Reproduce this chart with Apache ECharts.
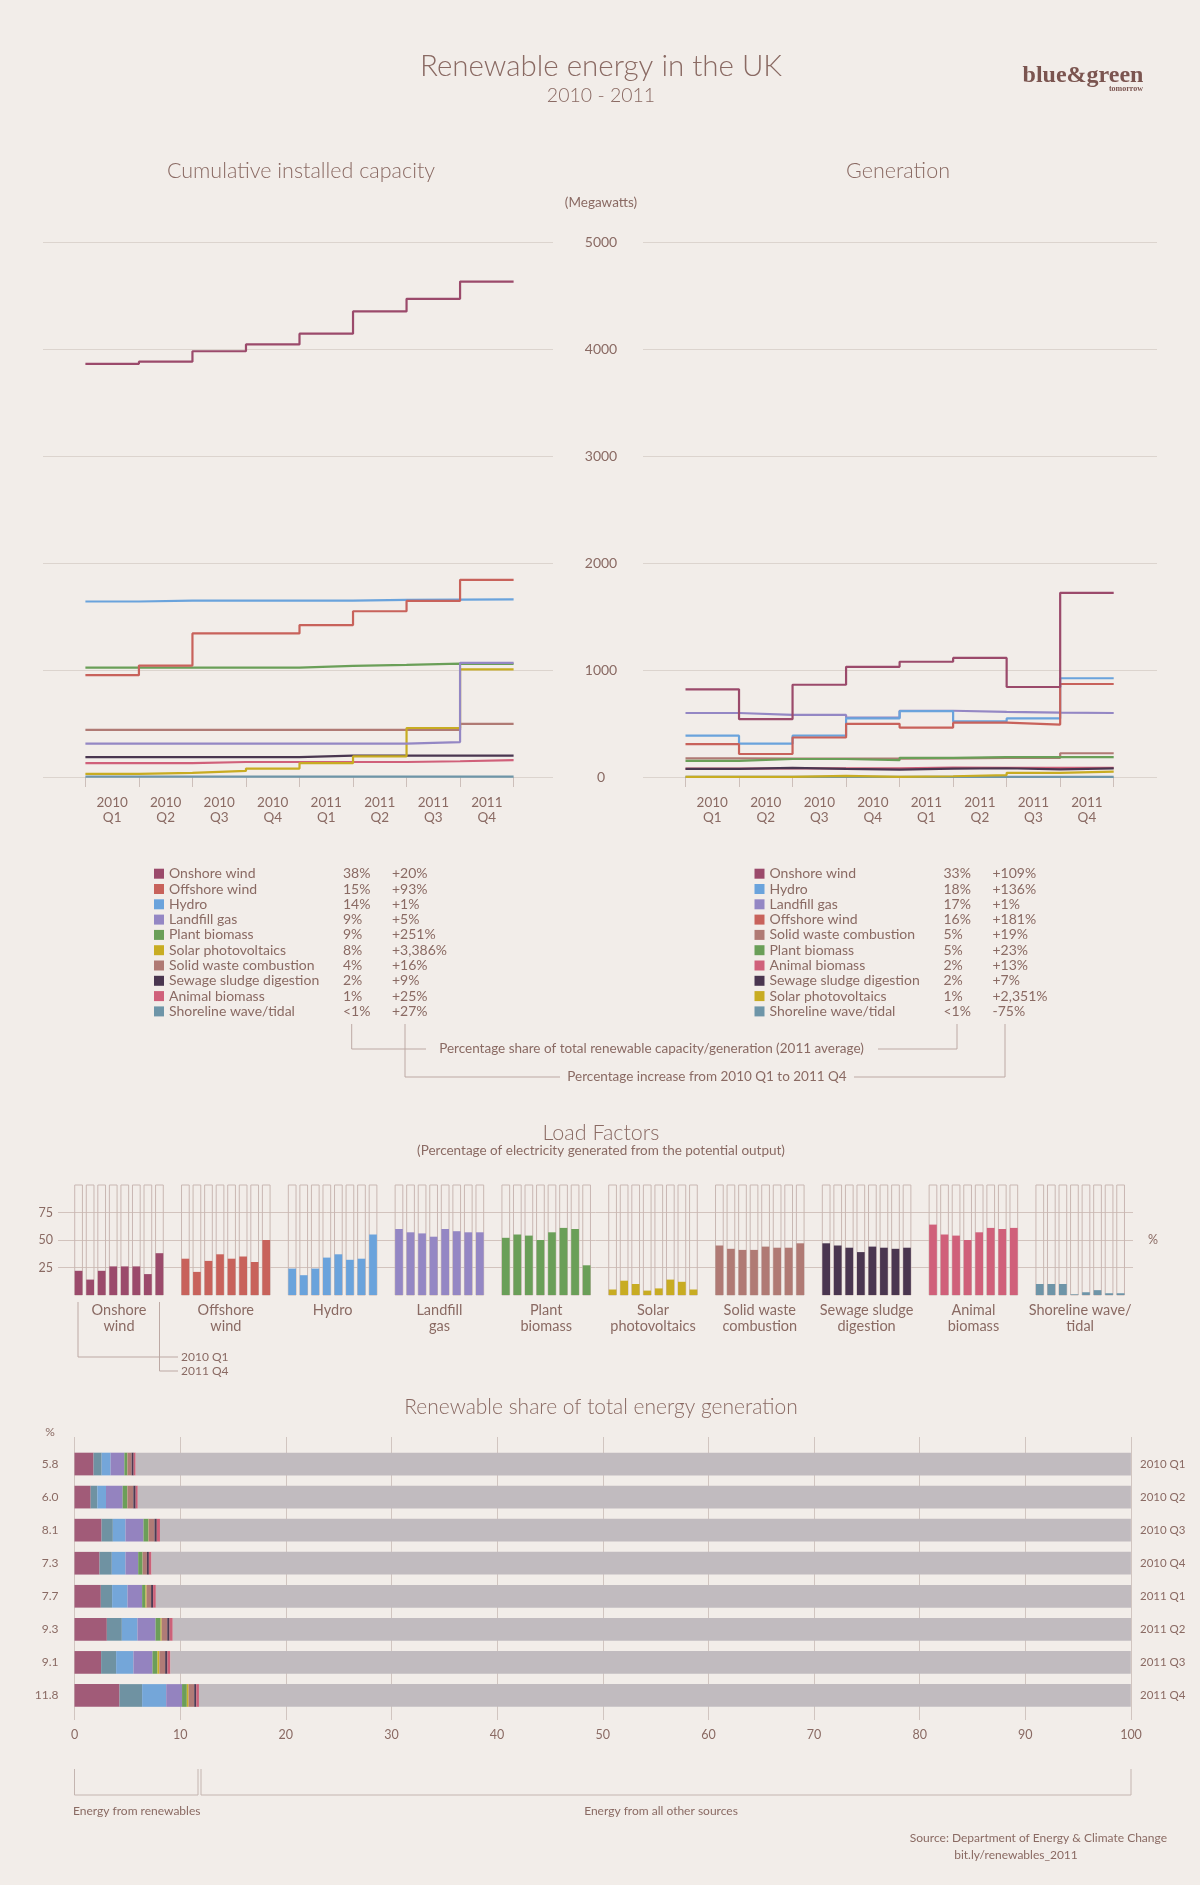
<!DOCTYPE html>
<html><head><meta charset="utf-8">
<script src="https://cdn.jsdelivr.net/npm/echarts@6.0.0/dist/echarts.min.js"></script>
<style>html,body{margin:0;padding:0;background:#f2ede9}#c{width:1200px;height:1885px}</style>
</head><body><div id="c"></div><script>
// ---------- data ----------
const quarterLabels = ['2010\nQ1','2010\nQ2','2010\nQ3','2010\nQ4','2011\nQ1','2011\nQ2','2011\nQ3','2011\nQ4'];
const quarterNames = ['2010 Q1','2010 Q2','2010 Q3','2010 Q4','2011 Q1','2011 Q2','2011 Q3','2011 Q4'];
const sources = ['Onshore wind','Offshore wind','Hydro','Landfill gas','Plant biomass','Solar photovoltaics','Solid waste combustion','Sewage sludge digestion','Animal biomass','Shoreline wave/tidal'];
const sourceColors = ['#9b4a6b','#c8625b','#6aa3dc','#9487c4','#6a9f58','#c8ac22','#b07a74','#4a3650','#d0607a','#6e95a8'];

// Cumulative installed capacity (MW)
const capOnshore   = [3861, 3882, 3979, 4043, 4143, 4351, 4469, 4630];
const capOffshore  = [952, 1041, 1342, 1342, 1420, 1549, 1646, 1843];
const capHydro     = [1640, 1648, 1648, 1648, 1648, 1655, 1658, 1660];
const capLandfill  = [311, 311, 311, 311, 311, 311, 326, 1066];
const capPlant     = [1023, 1023, 1023, 1023, 1038, 1048, 1059, 1058];
const capSolar     = [29, 39, 57, 79, 129, 193, 458, 1005];
const capSolid     = [440, 440, 440, 440, 440, 440, 440, 497];
const capSewage    = [186, 186, 186, 186, 200, 200, 200, 200];
const capAnimal    = [129, 129, 140, 140, 140, 140, 147, 157];
const capShoreline = [3, 3, 3, 3, 3, 3, 3, 4];

// Generation
const genOnshore   = [819, 540, 862, 1030, 1077, 1113, 841, 1721];
const genOffshore  = [308, 215, 369, 497, 462, 508, 490, 869];
const genHydro     = [386, 311, 386, 547, 615, 519, 547, 923];
const genLandfill  = [598, 580, 580, 555, 619, 608, 601, 598];
const genPlant     = [150, 168, 168, 157, 179, 186, 186, 186];
const genSolar     = [1, 1, 11, 2, 7, 18, 39, 50];
const genSolid     = [175, 172, 172, 172, 175, 178, 178, 222];
const genSewage    = [76, 86, 76, 68, 79, 82, 72, 80];
const genAnimal    = [78, 80, 80, 80, 89, 86, 86, 86];
const genShoreline = [2, 2, 2, 2, 2, 2, 2, 1];

const capYTicks = [0, 1000, 2000, 3000, 4000, 5000];

// Legend tables
const capLegendNames = ['Onshore wind','Offshore wind','Hydro','Landfill gas','Plant biomass','Solar photovoltaics','Solid waste combustion','Sewage sludge digestion','Animal biomass','Shoreline wave/tidal'];
const capLegendShare = ['38%','15%','14%','9%','9%','8%','4%','2%','1%','<1%'];
const capLegendIncrease = ['+20%','+93%','+1%','+5%','+251%','+3,386%','+16%','+9%','+25%','+27%'];
const genLegendNames = ['Onshore wind','Hydro','Landfill gas','Offshore wind','Solid waste combustion','Plant biomass','Animal biomass','Sewage sludge digestion','Solar photovoltaics','Shoreline wave/tidal'];
const genLegendShare = ['33%','18%','17%','16%','5%','5%','2%','2%','1%','<1%'];
const genLegendIncrease = ['+109%','+136%','+1%','+181%','+19%','+23%','+13%','+7%','+2,351%','-75%'];

// Load factors (%), 2010 Q1 .. 2011 Q4
const lfLabels = ['Onshore\nwind','Offshore\nwind','Hydro','Landfill\ngas','Plant\nbiomass','Solar\nphotovoltaics','Solid waste\ncombustion','Sewage sludge\ndigestion','Animal\nbiomass','Shoreline wave/\ntidal'];
const lfOnshore   = [22, 14, 22, 26, 26, 26, 19, 38];
const lfOffshore  = [33, 21, 31, 37, 33, 35, 30, 50];
const lfHydro     = [24, 18, 24, 34, 37, 32, 33, 55];
const lfLandfill  = [60, 57, 56, 53, 60, 58, 57, 57];
const lfPlant     = [52, 55, 54, 50, 57, 61, 60, 27];
const lfSolar     = [5, 13, 10, 4, 6, 14, 12, 5];
const lfSolid     = [45, 42, 41, 41, 44, 43, 43, 47];
const lfSewage    = [47, 45, 43, 39, 44, 43, 42, 43];
const lfAnimal    = [64, 55, 54, 50, 57, 61, 60, 61];
const lfShoreline = [10, 10, 10, 0.6, 2.5, 4.4, 1.6, 1.6];
const lfYTicks = [25, 50, 75];

// Renewable share of total generation (%)
const shareTotals = ['5.8','6.0','8.1','7.3','7.7','9.3','9.1','11.8'];
const shareOnshore  = [1.8, 1.53, 2.56, 2.37, 2.49, 3.06, 2.52, 4.26];
const shareOffshore = [0.77, 0.63, 1.07, 1.16, 1.07, 1.42, 1.42, 2.14];
const shareHydro    = [0.85, 0.82, 1.2, 1.3, 1.46, 1.48, 1.64, 2.28];
const shareLandfill = [1.3, 1.58, 1.7, 1.2, 1.38, 1.71, 1.8, 1.5];
const sharePlant    = [0.28, 0.44, 0.47, 0.41, 0.32, 0.48, 0.47, 0.45];
const shareSolar    = [0.01, 0.01, 0.02, 0.01, 0.1, 0.1, 0.19, 0.17];
const shareSolid    = [0.4, 0.56, 0.55, 0.4, 0.43, 0.53, 0.54, 0.53];
const shareSewage   = [0.19, 0.22, 0.22, 0.19, 0.19, 0.22, 0.22, 0.2];
const shareAnimal   = [0.19, 0.2, 0.3, 0.25, 0.26, 0.3, 0.28, 0.25];
const shareOther    = [94.2, 94.0, 91.9, 92.7, 92.3, 90.7, 90.9, 88.2];
const shareColors = ['#a15b78','#6f92a2','#74a6d9','#9483bf','#6c9e59','#c9b12c','#b07b77','#4e3a52','#cc6179','#c1bbbf'];
const shareXTicks = [0,10,20,30,40,50,60,70,80,90,100];

// ---------- styling ----------
const TXT = '#8a6a63';
const FONT = 'Lato';
const GRIDC = '#dcd4ce';

const capSeriesData = [capOnshore, capOffshore, capHydro, capLandfill, capPlant, capSolar, capSolid, capSewage, capAnimal, capShoreline];
const genSeriesData = [genOnshore, genOffshore, genHydro, genLandfill, genPlant, genSolar, genSolid, genSewage, genAnimal, genShoreline];
const lfData = [lfOnshore, lfOffshore, lfHydro, lfLandfill, lfPlant, lfSolar, lfSolid, lfSewage, lfAnimal, lfShoreline];
const shareData = [shareOnshore, shareOffshore, shareHydro, shareLandfill, sharePlant, shareSolar, shareSolid, shareSewage, shareAnimal, shareOther];

function stepPoints(vals){ const d = vals.map((v,i)=>[i,v]); d.push([vals.length, vals[vals.length-1]]); return d; }

const chart = echarts.init(document.getElementById('c'), null, {renderer:'canvas'});

const lblBase = {color: TXT, fontFamily: FONT, fontWeight: 400};

const grid = [
  {left:43, top:242, width:510, height:535},        // 0 cap lines
  {left:85.4, top:242, width:428.2, height:535},    // 1 cap data
  {left:643, top:242, width:514, height:535},       // 2 gen lines
  {left:685.5, top:242, width:428.2, height:535},   // 3 gen data
  {left:58, top:1212.5, width:1075, height:55},     // 4 lf lines
  {left:65.6, top:1185, width:1068, height:110},    // 5 lf bars
  {left:74.5, top:1437, width:1056.5, height:283},  // 6 share lines
  {left:74.5, top:1447.5, width:1056.5, height:264.5} // 7 share bars
];

const catX = (gi) => ({
  type:'category', gridIndex:gi, data:quarterLabels, boundaryGap:true, offset:15,
  axisLine:{show:false},
  axisTick:{show:true, interval:0, length:10, lineStyle:{color:'#cdbfba'}},
  axisLabel:Object.assign({interval:0, fontSize:13.5, lineHeight:15, margin:3}, lblBase)
});
const hidVal = (gi, min, max) => ({type:'value', gridIndex:gi, min:min, max:max, show:false});

const xAxis = [
  hidVal(0,0,1),             //0
  catX(1),                   //1
  hidVal(1,0,8),             //2
  hidVal(2,0,1),             //3
  catX(3),                   //4
  hidVal(3,0,8),             //5
  hidVal(4,0,1),             //6
  {type:'category', gridIndex:5, data:lfLabels, axisLine:{show:false}, axisTick:{show:false},
   axisLabel:Object.assign({interval:0, fontSize:14.5, lineHeight:16, margin:7}, lblBase)}, //7
  {type:'value', gridIndex:6, min:0, max:100, interval:10, axisLine:{show:false}, axisTick:{show:false},
   splitLine:{show:true, lineStyle:{color:'#d1c5c0', width:1}},
   axisLabel:Object.assign({fontSize:12.5, margin:8, formatter:(v)=>shareXTicks.includes(v)?String(v):''}, lblBase)}, //8
  hidVal(7,0,100)            //9
];

const yAxis = [
  {type:'value', gridIndex:0, min:0, max:5000, interval:1000, position:'right',
   axisLine:{show:false}, axisTick:{show:false},
   splitLine:{show:true, lineStyle:{color:GRIDC}},
   axisLabel:Object.assign({align:'center', margin:48, fontSize:14, formatter:(v)=>capYTicks.includes(v)?String(v):''}, lblBase)}, //0
  hidVal(1,0,5000), //1
  {type:'value', gridIndex:2, min:0, max:5000, interval:1000,
   axisLine:{show:false}, axisTick:{show:false}, axisLabel:{show:false},
   splitLine:{show:true, lineStyle:{color:GRIDC}}}, //2
  hidVal(3,0,5000), //3
  {type:'value', gridIndex:4, min:25, max:75, interval:25,
   axisLine:{show:false}, axisTick:{show:false},
   splitLine:{show:true, lineStyle:{color:'#d2c3bd'}},
   axisLabel:Object.assign({fontSize:12.5, margin:5, formatter:(v)=>lfYTicks.includes(v)?String(v):''}, lblBase)}, //4
  {type:'value', gridIndex:4, min:25, max:75, interval:25, position:'right',
   axisLine:{show:false}, axisTick:{show:false}, splitLine:{show:false},
   axisLabel:Object.assign({fontSize:12.5, margin:15, formatter:(v)=>v===50?'%':''}, lblBase)}, //5
  hidVal(5,0,100), //6
  hidVal(6,0,1),   //7
  {type:'category', gridIndex:7, data:shareTotals, inverse:true, axisLine:{show:false}, axisTick:{show:false},
   axisLabel:Object.assign({fontSize:12, margin:16}, lblBase)}, //8
  {type:'category', gridIndex:7, data:quarterNames, inverse:true, position:'right', axisLine:{show:false}, axisTick:{show:false},
   axisLabel:Object.assign({fontSize:11.5, margin:9}, lblBase)} //9
];

const series = [];
// empty anchor series so every grid renders its axes
series.push({type:'scatter', xAxisIndex:0, yAxisIndex:0, data:[], silent:true});
series.push({type:'scatter', xAxisIndex:3, yAxisIndex:2, data:[], silent:true});
series.push({type:'scatter', xAxisIndex:6, yAxisIndex:4, data:[], silent:true});
series.push({type:'scatter', xAxisIndex:6, yAxisIndex:5, data:[], silent:true});
series.push({type:'scatter', xAxisIndex:8, yAxisIndex:7, data:[], silent:true});
series.push({type:'scatter', xAxisIndex:1, yAxisIndex:1, data:[], silent:true});
series.push({type:'scatter', xAxisIndex:4, yAxisIndex:3, data:[], silent:true});

const drawOrder = [9,8,7,6,5,4,3,2,1,0];
drawOrder.forEach(i=>{
  series.push({type:'line', name:sources[i], xAxisIndex:2, yAxisIndex:1, step:'end', showSymbol:false, silent:true,
    data:stepPoints(capSeriesData[i]), lineStyle:{color:sourceColors[i], width:2.2}, itemStyle:{color:sourceColors[i]}});
  series.push({type:'line', name:sources[i], xAxisIndex:5, yAxisIndex:3, step:'end', showSymbol:false, silent:true,
    data:stepPoints(genSeriesData[i]), lineStyle:{color:sourceColors[i], width:2.2}, itemStyle:{color:sourceColors[i]}});
});

// Load factor bars: one series per quarter
quarterNames.forEach((q, qi)=>{
  series.push({type:'bar', name:q, xAxisIndex:7, yAxisIndex:6, barWidth:7.7, barGap:'50%', silent:true,
    data: lfData.map(arr=>arr[qi]),
    itemStyle:{color:(p)=>sourceColors[p.dataIndex]},
    showBackground:true,
    backgroundStyle:{color:'rgba(0,0,0,0)', borderColor:'#c9b7b2', borderWidth:1}
  });
});

// Share stacked bars
const shareNames = sources.slice(0,9).concat(['Other']);
shareData.forEach((arr, i)=>{
  series.push({type:'bar', name:shareNames[i], xAxisIndex:9, yAxisIndex:8, stack:'share', barWidth:22.7, silent:true,
    data:arr, itemStyle:{color:shareColors[i]}});
});

// ---------- graphic texts & annotations ----------
function T(text, x, y, size, align, weight){
  align = align || 'center';
  weight = weight || (size >= 17 ? 300 : 400);
  return {type:'text', silent:true, z:100, style:{
    text, x, y, fill:TXT, font:`${weight} ${size}px ${FONT}`,
    textAlign:align, align:align, textVerticalAlign:'middle', verticalAlign:'middle'}};
}
function L(points, color){
  return {type:'polyline', silent:true, z:100, shape:{points}, style:{stroke:color||'#bda9a4', lineWidth:1, fill:null}};
}
const graphics = [
  T('Renewable energy in the UK', 601, 66, 29.5),
  T('2010 - 2011', 601, 96, 19.5),
  {type:'text', silent:true, style:{text:'blue&green', x:1083, y:76, fill:'#7b5550', font:'bold 24px "Liberation Serif"', textAlign:'center', align:'center', textVerticalAlign:'middle', verticalAlign:'middle'}},
  {type:'text', silent:true, style:{text:'tomorrow', x:1143, y:89, fill:'#7b5550', font:'bold 8px "Liberation Serif"', textAlign:'right', align:'right', textVerticalAlign:'middle', verticalAlign:'middle'}},
  T('Cumulative installed capacity', 301, 171, 21.5),
  T('Generation', 898, 171, 21.5),
  T('(Megawatts)', 601, 203, 13.5),
  T('Percentage share of total renewable capacity/generation (2011 average)', 651.5, 1049, 13.5),
  T('Percentage increase from 2010 Q1 to 2011 Q4', 707, 1077, 13.5),
  L([[351.7,1024],[351.7,1049],[426,1049]]),
  L([[878,1049],[957,1049],[957,1024]]),
  L([[405,1024],[405,1077],[560,1077]]),
  L([[854,1077],[1005,1077],[1005,1024]]),
  T('Load Factors', 601, 1133, 21.5),
  T('(Percentage of electricity generated from the potential output)', 601, 1151, 13.5),
  L([[78,1302],[78,1357],[178,1357]]),
  L([[159.5,1302],[159.5,1371],[178,1371]]),
  T(quarterNames[0], 181, 1357, 12, 'left'),
  T(quarterNames[7], 181, 1371, 12, 'left'),
  T('Renewable share of total energy generation', 601, 1407, 21),
  T('%', 50, 1432, 12),
  L([[74.5,1769],[74.5,1795],[198,1795],[198,1769]], '#c4b5b0'),
  L([[201,1769],[201,1795],[1131,1795],[1131,1769]], '#c4b5b0'),
  T('Energy from renewables', 73, 1811, 12, 'left'),
  T('Energy from all other sources', 661, 1811, 12),
  T('Source: Department of Energy & Climate Change', 1167, 1838, 12, 'right'),
  T('bit.ly/renewables_2011', 1016, 1855, 12)
];
function legendBlock(x0, names, shares, incs){
  names.forEach((n, i)=>{
    const y = 873.7 + i*15.3;
    const ci = sources.indexOf(n);
    graphics.push({type:'rect', silent:true, shape:{x:x0, y:y-5, width:10, height:10}, style:{fill:sourceColors[ci]}});
    graphics.push(T(n, x0+15, y, 14, 'left'));
    graphics.push(T(shares[i], x0+189, y, 14, 'left'));
    graphics.push(T(incs[i], x0+238, y, 14, 'left'));
  });
}
legendBlock(154, capLegendNames, capLegendShare, capLegendIncrease);
legendBlock(754.5, genLegendNames, genLegendShare, genLegendIncrease);

chart.setOption({
  backgroundColor:'#f2ede9',
  animation:false,
  textStyle:{fontFamily:FONT},
  grid, xAxis, yAxis, series,
  graphic:{elements:graphics}
});
</script></body></html>
